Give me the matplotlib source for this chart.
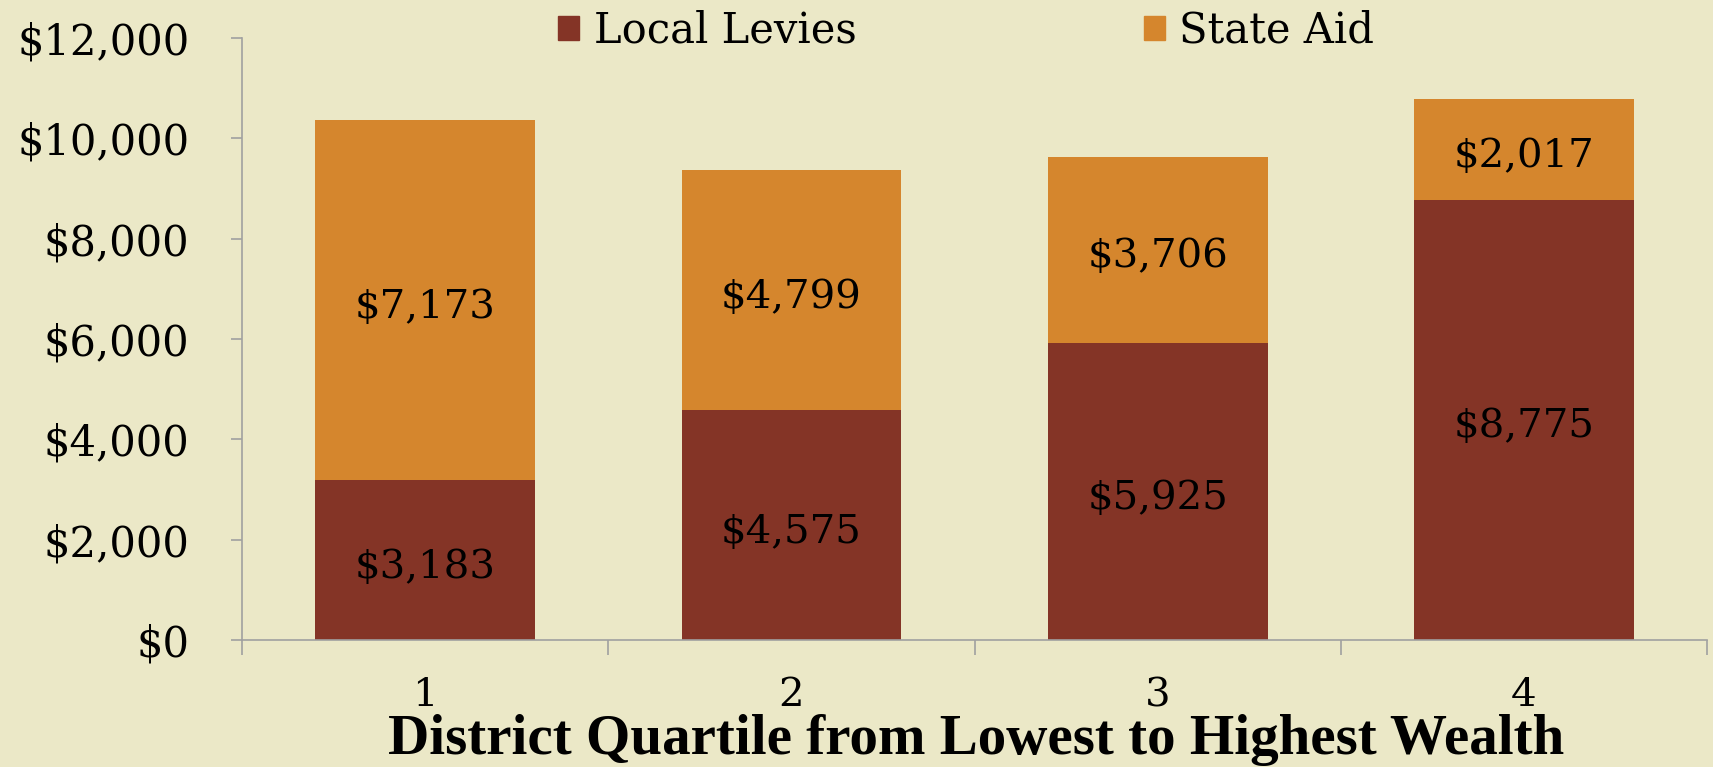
import numpy as np
import matplotlib
matplotlib.use("Agg")
import matplotlib.pyplot as plt
from matplotlib.patches import Patch

# データ
quartiles = ["1", "2", "3", "4"]
local_levies = [3183, 4575, 5925, 8775]
state_aid = [7173, 4799, 3706, 2017]
series_names = ["Local Levies", "State Aid"]
y_ticks = [0, 2000, 4000, 6000, 8000, 10000, 12000]

bg = "#EBE8C7"
c_local = "#843426"
c_state = "#D5862D"
axis_gray = "#A0A0A0"

plt.rcParams["font.family"] = ["DejaVu Serif"]

fig = plt.figure(figsize=(17.13, 7.67), dpi=100, facecolor=bg)
ax = fig.add_axes([0.1413, 0.1656, 0.9965 - 0.1413, 0.9505 - 0.1656])
ax.set_facecolor(bg)

x = np.arange(1, len(quartiles) + 1)
b1 = ax.bar(x, local_levies, width=0.6, color=c_local, zorder=2)
b2 = ax.bar(x, state_aid, width=0.6, bottom=local_levies, color=c_state, zorder=2)

# 値ラベル
for xi, lo, st in zip(x, local_levies, state_aid):
  ax.annotate(f"${lo:,}", (xi, lo / 2), xytext=(0, -5), textcoords="offset points",
              ha="center", va="center", fontsize=29)
  ax.annotate(f"${st:,}", (xi, lo + st / 2), xytext=(0, -5), textcoords="offset points",
              ha="center", va="center", fontsize=29)

ax.set_xlim(0.5, 4.5)
ax.set_ylim(0, 12000)
ax.set_yticks(y_ticks)
ax.set_yticklabels([f"${v:,}" for v in y_ticks], fontsize=30)
ax.set_xticks(x)
ax.set_xticklabels(quartiles, fontsize=29)
ax.set_xticks(np.arange(0.5, 4.6, 1.0), minor=True)
ax.tick_params(axis="x", which="major", length=0, pad=27)
ax.tick_params(axis="x", which="minor", length=11, width=1.2, color=axis_gray)
ax.tick_params(axis="y", length=8, width=1.2, color=axis_gray, pad=30)

for s in ["top", "right"]:
  ax.spines[s].set_visible(False)
for s in ["left", "bottom"]:
  ax.spines[s].set_color(axis_gray)
  ax.spines[s].set_linewidth(1.2)

fig.text(0.5696, 0.017, "District Quartile from Lowest to Highest Wealth",
         ha="center", va="baseline", fontsize=41, fontweight="bold",
         family="Liberation Serif")

handles = [Patch(color=c_local), Patch(color=c_state)]
fig.legend(handles, series_names, loc="center", bbox_to_anchor=(0.564, 0.960),
           ncol=2, frameon=False, fontsize=30, handlelength=0.5, handleheight=0.5,
           handletextpad=0.35, columnspacing=6.9)

fig.savefig("out.png", dpi=100, facecolor=bg)
